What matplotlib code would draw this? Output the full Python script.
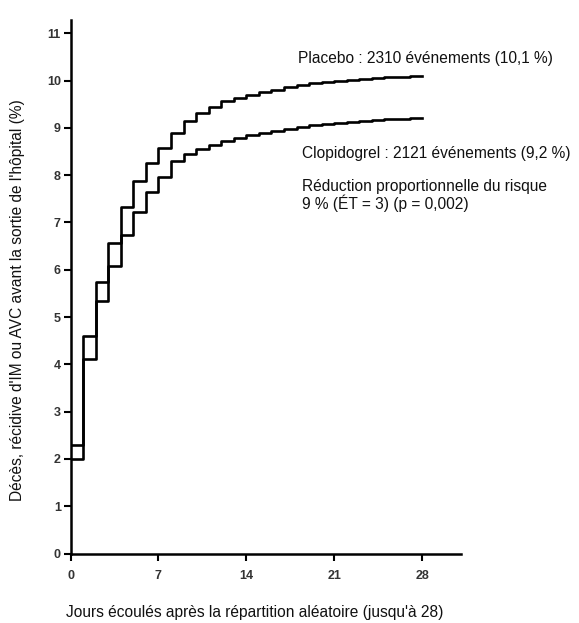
import matplotlib
matplotlib.use('Agg')
import matplotlib.pyplot as plt
import numpy as np

plt.rcParams['font.family'] = ['Liberation Sans', 'DejaVu Sans']

# Kaplan-Meier type step data (cumulative event rate, %), one value per day 0..27
days = np.arange(0, 29)
placebo = [2.3, 4.6, 5.75, 6.57, 7.33, 7.87, 8.26, 8.57, 8.9, 9.15, 9.32, 9.45,
           9.56, 9.63, 9.70, 9.76, 9.81, 9.86, 9.90, 9.94, 9.97, 10.0, 10.02,
           10.04, 10.06, 10.07, 10.08, 10.09]
clopidogrel = [2.0, 4.11, 5.33, 6.09, 6.73, 7.23, 7.65, 7.97, 8.3, 8.45, 8.55,
               8.64, 8.72, 8.79, 8.85, 8.90, 8.94, 8.98, 9.02, 9.06, 9.09, 9.11,
               9.13, 9.15, 9.17, 9.18, 9.19, 9.20]
x_ticks = [0, 7, 14, 21, 28]
y_ticks = list(range(0, 12))

W, H = 579, 623
fig = plt.figure(figsize=(W / 100, H / 100), dpi=100)
ax = fig.add_axes([70.5 / W, 1 - 553.6 / H, (461 - 70.5) / W, (553.6 - 20) / H])

for series in (placebo, clopidogrel):
    y = list(series) + [series[-1]]
    ax.step(days, y, where='post', color='black', lw=1.9)

ax.set_xlim(0, 31.1)
ax.set_ylim(0, 11.28)
ax.set_xticks(x_ticks)
ax.set_yticks(y_ticks)
for s in ('top', 'right'):
    ax.spines[s].set_visible(False)
for s in ('left', 'bottom'):
    ax.spines[s].set_linewidth(1.8)
ax.tick_params(axis='both', direction='out', length=5, width=1.5,
               labelsize=9, colors='black', labelcolor='#333333')
ax.tick_params(axis='x', pad=7)
ax.tick_params(axis='y', pad=2)
for lab in ax.get_xticklabels() + ax.get_yticklabels():
    lab.set_fontweight('bold')

txt = dict(fontsize=11.2, color='#111111', ha='left', va='center')
fig.text(298 / W, 1 - 58 / H, 'Placebo : 2310 événements (10,1 %)', **txt)
fig.text(302 / W, 1 - 153 / H, 'Clopidogrel : 2121 événements (9,2 %)', **txt)
fig.text(302 / W, 1 - 187 / H, 'Réduction proportionnelle du risque', **txt)
fig.text(302 / W, 1 - 203 / H, '9 % (ÉT = 3) (p = 0,002)', **txt)

fig.text(254.5 / W, 1 - 612 / H,
         "Jours écoulés après la répartition aléatoire (jusqu'à 28)",
         fontsize=11.2, color='#111111', ha='center', va='center')
fig.text(18 / W, 1 - 300 / H,
         "Décès, récidive d'IM ou AVC avant la sortie de l'hôpital (%)",
         fontsize=11.2, color='#111111', ha='center', va='center', rotation=90)

fig.savefig('out.png', dpi=100, facecolor='white')
